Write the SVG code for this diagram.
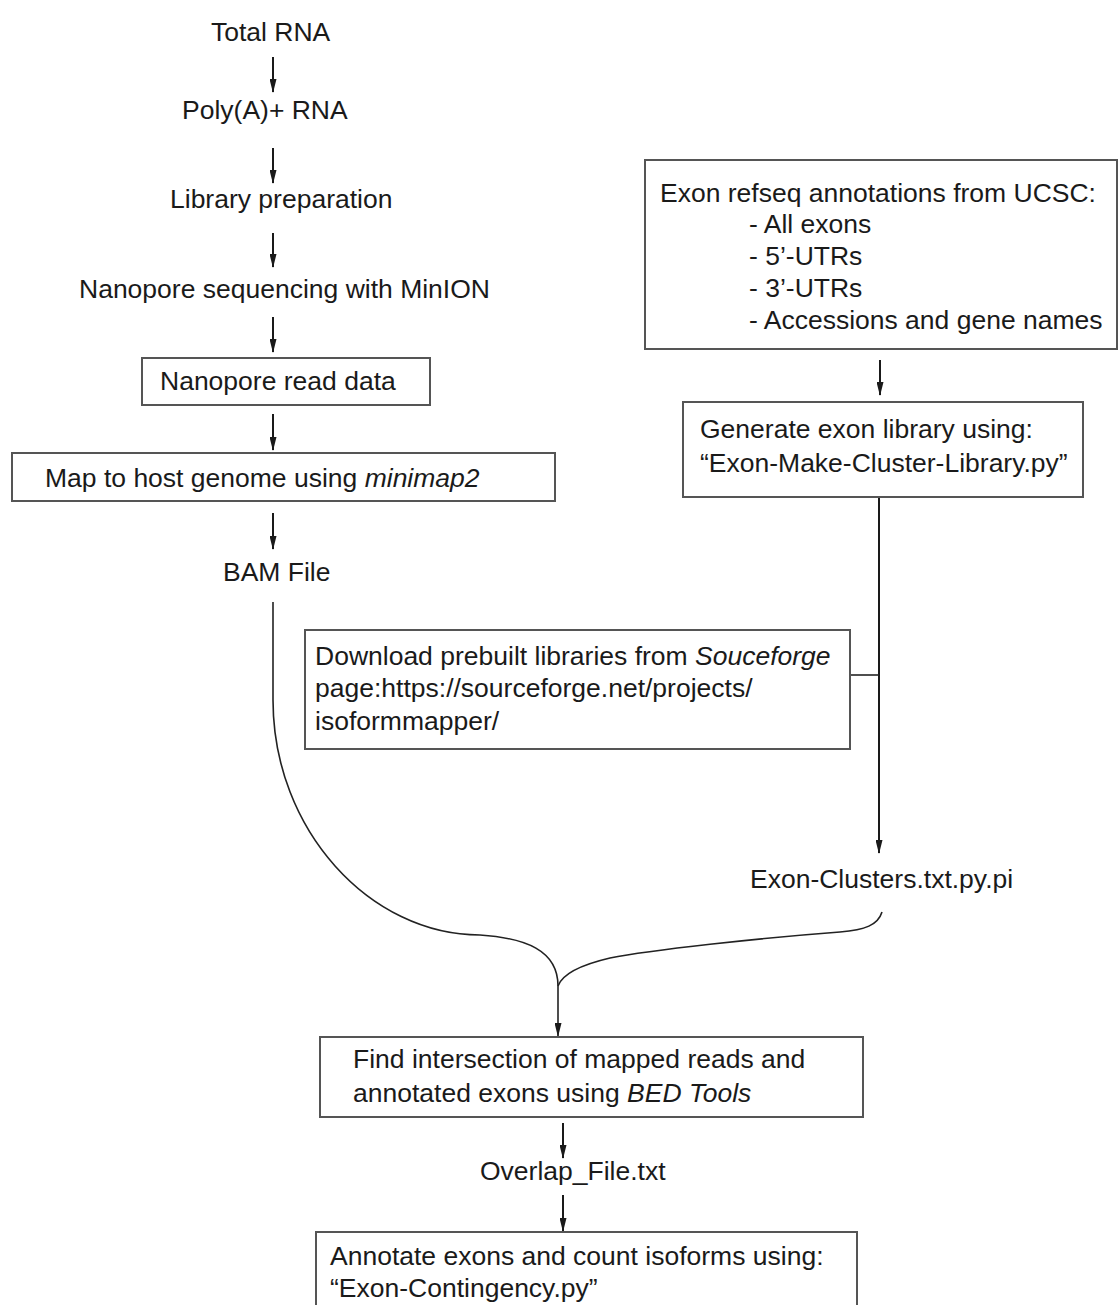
<svg xmlns="http://www.w3.org/2000/svg" width="1120" height="1305" viewBox="0 0 1120 1305">
<defs>
<style>
text{font-family:"Liberation Sans",Arial,sans-serif;font-size:26.5px;fill:#1a1a1a}
.box{fill:#fff;stroke:#555;stroke-width:2}
.ln{fill:none;stroke:#1a1a1a;stroke-width:2}
.thin{fill:none;stroke:#222;stroke-width:1.6}
.it{font-style:italic}
</style>
<marker id="ah" viewBox="0 0 14 7" refX="13" refY="3.5" markerWidth="14" markerHeight="7" markerUnits="userSpaceOnUse" orient="auto">
<path d="M0,0 L14,3.5 L0,7 z" fill="#1a1a1a"/>
</marker>
</defs>
<rect width="1120" height="1305" fill="#fff"/>

<g id="connectors">
<line class="ln" x1="273" y1="57" x2="273" y2="92" marker-end="url(#ah)"/>
<line class="ln" x1="273" y1="148" x2="273" y2="183" marker-end="url(#ah)"/>
<line class="ln" x1="273" y1="233" x2="273" y2="267" marker-end="url(#ah)"/>
<line class="ln" x1="273" y1="317" x2="273" y2="352" marker-end="url(#ah)"/>
<line class="ln" x1="273" y1="414" x2="273" y2="450" marker-end="url(#ah)"/>
<line class="ln" x1="273" y1="513" x2="273" y2="549" marker-end="url(#ah)"/>
<line class="ln" x1="880" y1="360" x2="880" y2="395" marker-end="url(#ah)"/>
<line class="ln" x1="879" y1="497" x2="879" y2="853" marker-end="url(#ah)"/>
<line class="thin" x1="850" y1="675" x2="879" y2="675"/>
<path class="thin" d="M273,602 L273,700 C273,830 370,935 480,935 C525,938 558,950 558,986"/>
<path class="thin" d="M882,912 C878,925 865,930 840,932 C760,938 650,950 610,958 C580,965 562,975 558,986"/>
<line class="thin" x1="558" y1="986" x2="558" y2="1036" marker-end="url(#ah)"/>
<line class="ln" x1="563" y1="1123" x2="563" y2="1158" marker-end="url(#ah)"/>
<line class="ln" x1="563" y1="1195" x2="563" y2="1231" marker-end="url(#ah)"/>
</g>

<g id="n-total-rna"><text x="211" y="41">Total RNA</text></g>
<g id="n-polya"><text x="182" y="119">Poly(A)+ RNA</text></g>
<g id="n-library"><text x="170" y="208">Library preparation</text></g>
<g id="n-sequencing"><text x="79" y="298">Nanopore sequencing with MinION</text></g>
<g id="n-readdata"><rect class="box" x="142" y="358" width="288" height="47"/><text x="160" y="390">Nanopore read data</text></g>
<g id="n-map"><rect class="box" x="12" y="453" width="543" height="48"/><text x="45" y="487">Map to host genome using <tspan class="it">minimap2</tspan></text></g>
<g id="n-bam"><text x="223" y="581">BAM File</text></g>

<g id="n-refseq"><rect class="box" x="645" y="160" width="472" height="189"/>
<text x="660" y="202">Exon refseq annotations from UCSC:</text>
<text x="749" y="233">- All exons</text>
<text x="749" y="265">- 5’-UTRs</text>
<text x="749" y="297">- 3’-UTRs</text>
<text x="749" y="329">- Accessions and gene names</text></g>

<g id="n-generate"><rect class="box" x="683" y="402" width="400" height="95"/>
<text x="700" y="438">Generate exon library using:</text>
<text x="700" y="472">“Exon-Make-Cluster-Library.py”</text></g>

<g id="n-download"><rect class="box" x="305" y="630" width="545" height="119"/>
<text x="315" y="665">Download prebuilt libraries from <tspan class="it">Souceforge</tspan></text>
<text x="315" y="697">page:https://sourceforge.net/projects/</text>
<text x="315" y="730">isoformmapper/</text></g>

<g id="n-clusters"><text x="750" y="888">Exon-Clusters.txt.py.pi</text></g>

<g id="n-find"><rect class="box" x="320" y="1037" width="543" height="80"/>
<text x="353" y="1068">Find intersection of mapped reads and</text>
<text x="353" y="1102">annotated exons using <tspan class="it">BED Tools</tspan></text></g>

<g id="n-overlap"><text x="480" y="1180">Overlap_File.txt</text></g>

<g id="n-annotate"><rect class="box" x="316" y="1232" width="541" height="90"/>
<text x="330" y="1265">Annotate exons and count isoforms using:</text>
<text x="330" y="1297">“Exon-Contingency.py”</text></g>
</svg>
